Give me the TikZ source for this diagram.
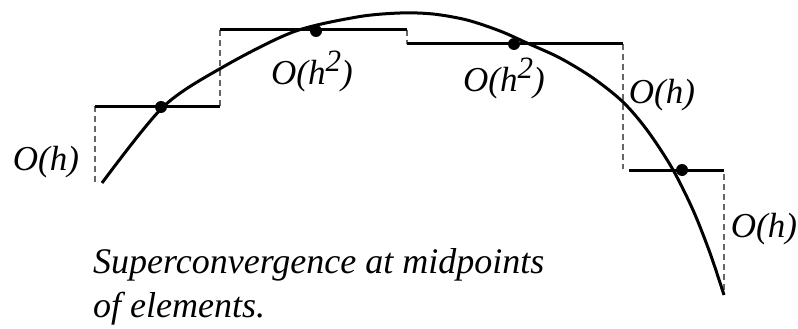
\documentclass[tikz,border=0pt]{standalone}
\usepackage{fontspec}
\newfontfamily\tnr{Liberation Serif}[ItalicFont={Liberation Serif Italic}]
\begin{document}
\begin{tikzpicture}[x=1pt,y=-1pt,
  seg/.style={line width=3pt},
  jump/.style={gray!80!black,line width=1.2pt,dash pattern=on 6pt off 4pt},
  curve/.style={line width=3pt},
  mid/.style={circle,fill=black,inner sep=0pt,minimum size=12pt},
  lab/.style={font=\tnr\itshape\fontsize{35}{41}\selectfont,inner sep=0pt},
  caplab/.style={font=\tnr\itshape\fontsize{36}{42}\selectfont,inner sep=0pt,anchor=base west}]
\useasboundingbox (0,0) rectangle (798,329);
% dashed jumps
\draw[jump] (95,106) -- (95,182);
\draw[jump] (220,30) -- (220,106);
\draw[jump] (407,30) -- (407,44);
\draw[jump] (623,44) -- (623,169);
\draw[jump] (724,174) -- (724,295);
% step segments
\draw[seg] (95,106) -- (220,106);
\draw[seg] (220,30) -- (407,30);
\draw[seg] (407,44) -- (623,44);
\draw[seg] (629,170) -- (724,170);
% curve
\draw[curve] plot[smooth,tension=0.5] coordinates {(102,183) (163,107) (223,67) (293,32) (357,17) (400,13) (433,14) (467,20) (500,31) (527,43) (560,58) (593,78) (623,102) (647,130) (672,168) (693,210) (710,253) (724,295)};
% midpoints
\node[mid] (m1) at (161,107) {};
\node[mid] (m2) at (316,31) {};
\node[mid] (m3) at (514,44) {};
\node[mid] (m4) at (682,170) {};
% labels
\node[lab] (l1) at (46,162) {O(h)};
\node[lab] (l2) at (312,71) {O(h\raisebox{13pt}{\fontsize{31}{31}\selectfont 2})};
\node[lab] (l3) at (504,78) {O(h\raisebox{13pt}{\fontsize{31}{31}\selectfont 2})};
\node[lab] (l4) at (662,95) {O(h)};
\node[lab] (l5) at (764,229) {O(h)};
\node[caplab] (cap1) at (93,273) {Superconvergence at midpoints};
\node[caplab] (cap2) at (93,317) {of elements.};
\end{tikzpicture}
\end{document}
